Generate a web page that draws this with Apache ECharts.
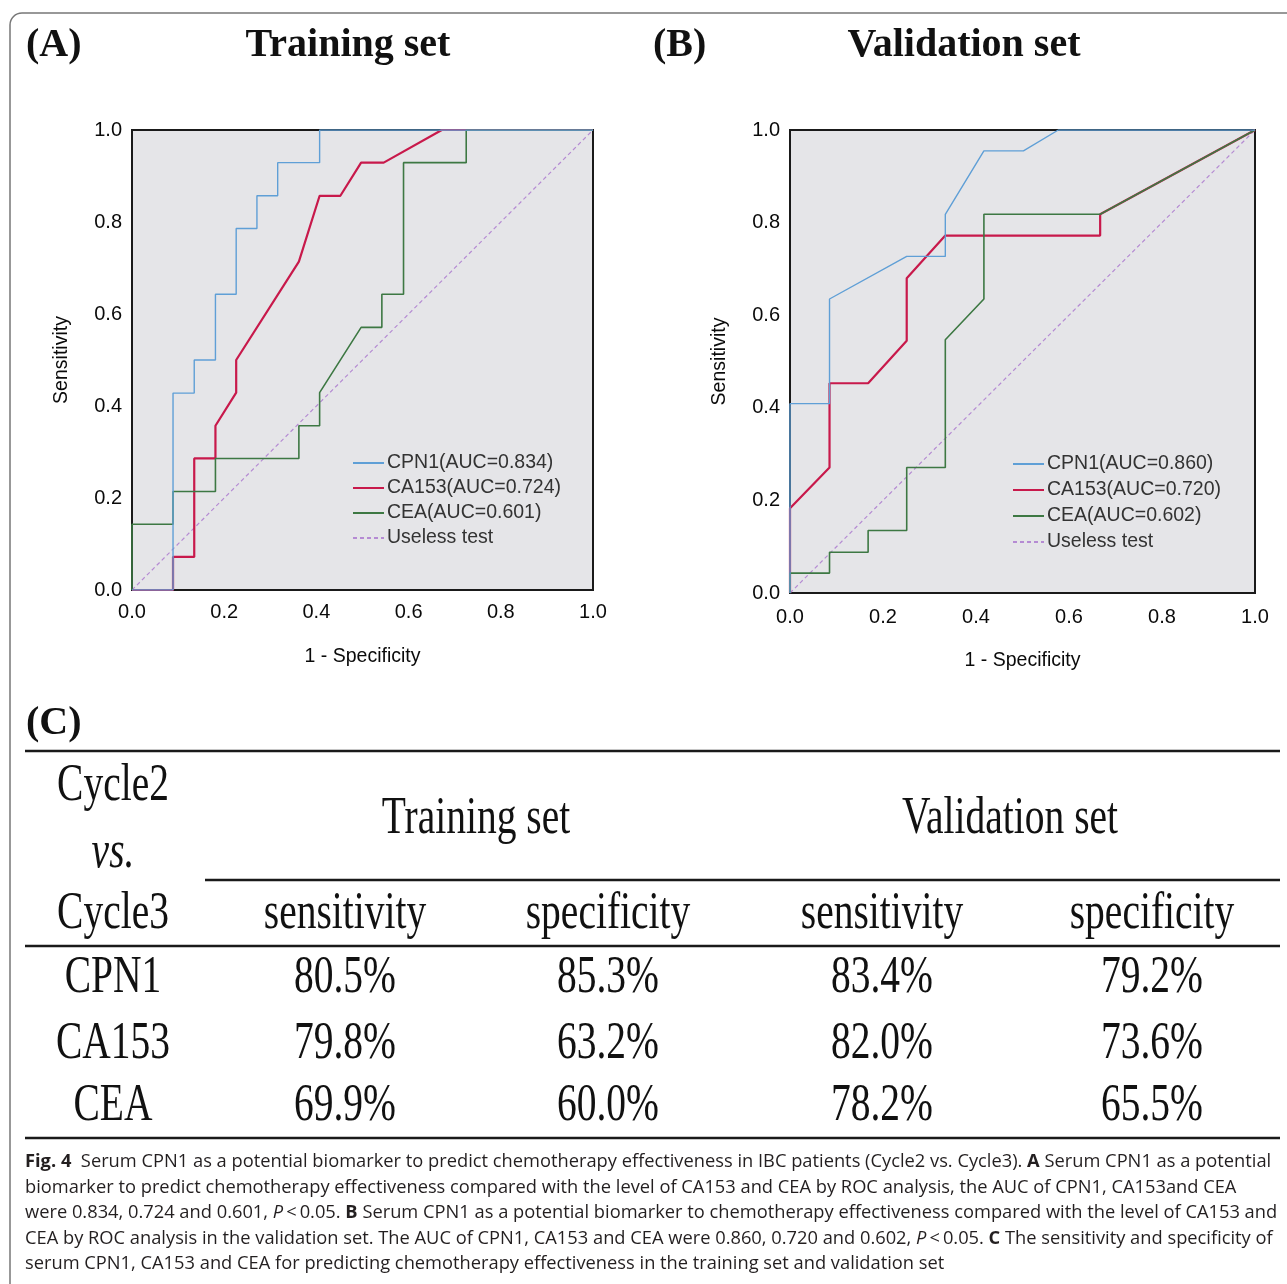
<!DOCTYPE html>
<html>
<head>
<meta charset="utf-8">
<title>Fig. 4 ROC</title>
<script src="https://cdn.jsdelivr.net/npm/echarts@6/dist/echarts.min.js"></script>
<style>
  html, body { margin: 0; padding: 0; background: #fff; }
  #chart { width: 1287px; height: 1284px; }
</style>
</head>
<body>
<div id="chart"></div>
<script>
(function () {
  // ROC curves: [1 - specificity, sensitivity]
  const trainCPN1 = [[0, 0], [0.089, 0], [0.089, 0.428], [0.135, 0.428], [0.135, 0.5], [0.181, 0.5], [0.181, 0.643], [0.226, 0.643], [0.226, 0.786], [0.271, 0.786], [0.271, 0.857], [0.316, 0.857], [0.316, 0.929], [0.407, 0.929], [0.407, 1], [1, 1]];
  const trainCA153 = [[0, 0], [0.089, 0], [0.089, 0.072], [0.135, 0.072], [0.135, 0.286], [0.181, 0.286], [0.181, 0.357], [0.226, 0.429], [0.226, 0.5], [0.362, 0.714], [0.407, 0.857], [0.452, 0.857], [0.497, 0.929], [0.546, 0.929], [0.672, 1], [1, 1]];
  const trainCEA = [[0, 0], [0, 0.143], [0.089, 0.143], [0.089, 0.214], [0.181, 0.214], [0.181, 0.286], [0.362, 0.286], [0.362, 0.357], [0.407, 0.357], [0.407, 0.429], [0.497, 0.571], [0.542, 0.571], [0.542, 0.643], [0.589, 0.643], [0.589, 0.929], [0.725, 0.929], [0.725, 1], [1, 1]];
  const validCPN1 = [[0, 0], [0, 0.409], [0.085, 0.409], [0.085, 0.635], [0.251, 0.727], [0.334, 0.727], [0.334, 0.818], [0.417, 0.955], [0.502, 0.955], [0.577, 1], [1, 1]];
  const validCA153 = [[0, 0], [0, 0.183], [0.085, 0.271], [0.085, 0.453], [0.168, 0.453], [0.251, 0.545], [0.251, 0.68], [0.334, 0.772], [0.667, 0.772], [0.667, 0.818], [1, 1]];
  const validCEA = [[0, 0], [0, 0.043], [0.085, 0.043], [0.085, 0.088], [0.168, 0.088], [0.168, 0.135], [0.251, 0.135], [0.251, 0.271], [0.334, 0.271], [0.334, 0.547], [0.417, 0.635], [0.417, 0.818], [0.667, 0.818], [1, 1]];
  const uselessTest = [[0, 0], [1, 1]];

  const trainNames = ["CPN1(AUC=0.834)", "CA153(AUC=0.724)", "CEA(AUC=0.601)", "Useless test"];
  const validNames = ["CPN1(AUC=0.860)", "CA153(AUC=0.720)", "CEA(AUC=0.602)", "Useless test"];

  // table (C)
  const tableMarkers = ["CPN1", "CA153", "CEA"];
  const trainSensitivity = ["80.5%", "79.8%", "69.9%"];
  const trainSpecificity = ["85.3%", "63.2%", "60.0%"];
  const validSensitivity = ["83.4%", "82.0%", "78.2%"];
  const validSpecificity = ["79.2%", "73.6%", "65.5%"];

  const captionLines = [
    "{b|Fig. 4}  Serum CPN1 as a potential biomarker to predict chemotherapy effectiveness in IBC patients (Cycle2 vs. Cycle3). {b|A} Serum CPN1 as a potential",
    "biomarker to predict chemotherapy effectiveness compared with the level of CA153 and CEA by ROC analysis, the AUC of CPN1, CA153and CEA",
    "were 0.834, 0.724 and 0.601, {i|P}\u2009<\u20090.05. {b|B} Serum CPN1 as a potential biomarker to chemotherapy effectiveness compared with the level of CA153 and",
    "CEA by ROC analysis in the validation set. The AUC of CPN1, CA153 and CEA were 0.860, 0.720 and 0.602, {i|P}\u2009<\u20090.05. {b|C} The sensitivity and specificity of",
    "serum CPN1, CA153 and CEA for predicting chemotherapy effectiveness in the training set and validation set",
  ];

  const colors = {
    cpn1: "#5f9fd6",
    ca153: "#c8194b",
    cea: "#3d7843",
    useless: "#b58bd3",
  };

  const SANS = "Liberation Sans";
  const SERIF = "Liberation Serif";

  function axisPair(index, gaps) {
    const label = { fontFamily: SANS, fontSize: 20, color: "#0a0a0a" };
    const nameStyle = { fontFamily: SANS, fontSize: 19.5, color: "#0a0a0a" };
    return {
      x: {
        type: "value", gridIndex: index, min: 0, max: 1, interval: 0.2,
        name: "1 - Specificity", nameLocation: "middle", nameGap: gaps.x,
        nameTextStyle: nameStyle,
        axisLine: { show: false }, axisTick: { show: false }, splitLine: { show: false },
        axisLabel: { ...label, margin: gaps.label, formatter: (v) => v.toFixed(1) },
      },
      y: {
        type: "value", gridIndex: index, min: 0, max: 1, interval: 0.2,
        name: "Sensitivity", nameLocation: "middle", nameGap: gaps.y,
        nameTextStyle: nameStyle,
        axisLine: { show: false }, axisTick: { show: false }, splitLine: { show: false },
        axisLabel: { ...label, margin: 10, formatter: (v) => v.toFixed(1) },
      },
    };
  }

  function rocSeries(index, names, curves) {
    const styles = [
      { color: colors.cpn1, width: 1.4 },
      { color: colors.ca153, width: 2.2 },
      { color: colors.cea, width: 1.6 },
      { color: colors.useless, width: 1.2, type: [4, 3] },
    ];
    // reference line first, then CA153, CEA, CPN1 on top
    return [3, 1, 2, 0].map((i) => ({
      name: names[i],
      type: "line",
      xAxisIndex: index,
      yAxisIndex: index,
      symbol: "none",
      silent: true,
      animation: false,
      itemStyle: { color: styles[i].color },
      lineStyle: { color: styles[i].color, width: styles[i].width, type: styles[i].type || "solid" },
      data: curves[i],
    }));
  }

  function legend(names, left, top, gap) {
    return {
      data: names,
      orient: "vertical",
      left: left,
      top: top,
      padding: 0,
      itemGap: gap,
      itemWidth: 31,
      itemHeight: 19,
      selectedMode: false,
      itemStyle: { opacity: 0 },
      textStyle: { fontFamily: SANS, fontSize: 19.5, color: "#333", lineHeight: 19, padding: [0, 0, 0, -2] },
    };
  }

  function text(x, y, str, opts) {
    const o = opts || {};
    return {
      type: "text",
      x: x,
      y: y,
      scaleX: o.scaleX || 1,
      scaleY: o.scaleY || 1,
      silent: true,
      style: {
        text: str,
        fill: o.fill || "#111",
        fontFamily: o.family || SERIF,
        fontSize: o.size || 40,
        fontWeight: o.weight || "normal",
        fontStyle: o.style || "normal",
        align: o.align || "center",
        textAlign: o.align || "center",
        verticalAlign: "middle",
        textVerticalAlign: "middle",
        rich: o.rich,
      },
    };
  }

  function rule(x1, x2, y) {
    return {
      type: "line",
      silent: true,
      shape: { x1: x1, y1: y, x2: x2, y2: y },
      style: { stroke: "#1a1a1a", lineWidth: 2.5 },
    };
  }

  function tableGraphics() {
    const t = { scaleY: 1.33, size: 39.5 };
    const cols = [113, 345, 608, 882, 1152];
    const rowsY = [978, 1044, 1106];
    const out = [
      text(26, 724, "(C)", { size: 40, weight: "bold", align: "left" }),
      rule(25, 1280, 751),
      rule(205, 1280, 880),
      rule(25, 1280, 946),
      rule(25, 1280, 1138),
      text(cols[0], 786, "Cycle2", t),
      text(cols[0], 853, "vs.", { ...t, style: "italic" }),
      text(cols[0], 914, "Cycle3", t),
      text(476, 819, "Training set", t),
      text(1010, 819, "Validation set", t),
      text(cols[1], 914, "sensitivity", t),
      text(cols[2], 914, "specificity", t),
      text(cols[3], 914, "sensitivity", t),
      text(cols[4], 914, "specificity", t),
    ];
    tableMarkers.forEach((m, i) => {
      out.push(text(cols[0], rowsY[i], m, t));
      out.push(text(cols[1], rowsY[i], trainSensitivity[i], t));
      out.push(text(cols[2], rowsY[i], trainSpecificity[i], t));
      out.push(text(cols[3], rowsY[i], validSensitivity[i], t));
      out.push(text(cols[4], rowsY[i], validSpecificity[i], t));
    });
    return out;
  }

  function captionGraphics() {
    const base = { fontFamily: "Open Sans", fontSize: 18.3, fill: "#231f20" };
    const rich = {
      b: { ...base, fontWeight: "bold" },
      i: { ...base, fontStyle: "italic" },
    };
    return captionLines.map((line, i) =>
      text(25, 1162 + i * 25.5, line, { family: "Open Sans", size: 18.3, fill: "#231f20", align: "left", rich: rich }),
    );
  }

  const axesA = axisPair(0, { x: 57, y: 60, label: 12 });
  const axesB = axisPair(1, { x: 58, y: 60, label: 14 });

  const option = {
    backgroundColor: "#fff",
    animation: false,
    grid: [
      { left: 132, top: 130, width: 461, height: 460, show: true, backgroundColor: "#e5e5e8", borderColor: "#1a1a1a", borderWidth: 2 },
      { left: 790, top: 130, width: 465, height: 463, show: true, backgroundColor: "#e5e5e8", borderColor: "#1a1a1a", borderWidth: 2 },
    ],
    xAxis: [axesA.x, axesB.x],
    yAxis: [axesA.y, axesB.y],
    legend: [
      legend(trainNames, 352, 453, 5),
      legend(validNames, 1012, 454, 6),
    ],
    series: [
      ...rocSeries(0, trainNames, [trainCPN1, trainCA153, trainCEA, uselessTest]),
      ...rocSeries(1, validNames, [validCPN1, validCA153, validCEA, uselessTest]),
    ],
    graphic: [
      {
        type: "rect",
        silent: true,
        z: -10,
        shape: { x: 10, y: 13, width: 1300, height: 1300, r: 12 },
        style: { fill: "none", stroke: "#777", lineWidth: 1.5 },
      },
      text(26, 46, "(A)", { size: 40, weight: "bold", align: "left" }),
      text(348, 46, "Training set", { size: 40, weight: "bold" }),
      text(653, 46, "(B)", { size: 40, weight: "bold", align: "left" }),
      text(964, 46, "Validation set", { size: 40, weight: "bold" }),
      ...tableGraphics(),
      ...captionGraphics(),
    ],
  };

  const chart = echarts.init(document.getElementById("chart"));
  chart.setOption(option);
})();
</script>
</body>
</html>
